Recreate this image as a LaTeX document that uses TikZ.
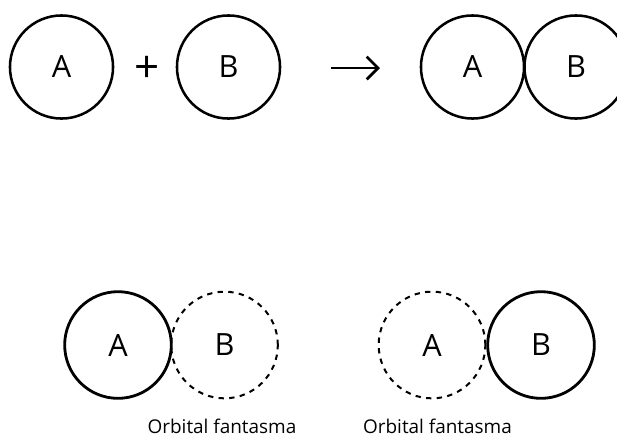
\documentclass[tikz,border=0pt]{standalone}
\usepackage{fontspec}
\setmainfont{Open Sans}
\usetikzlibrary{arrows.meta}
\begin{document}
\begin{tikzpicture}
	[x=0.75pt,y=-0.75pt,
	atom/.style={circle,draw,line width=1.9pt,minimum size=77.3pt,inner sep=0pt,font=\fontsize{23}{27}\selectfont},
	pair/.style={atom,minimum size=80pt,line width=2.1pt},
	ghost/.style={pair,line width=1.5pt,dash pattern=on 4pt off 4pt},
	sign/.style={font=\fontsize{33}{38}\selectfont,inner sep=0pt},
	caption/.style={font=\fontsize{14.2}{17}\selectfont,inner sep=0pt}
	]
	\useasboundingbox (0,0) rectangle (617,444);
	\node[atom] (a) at (61.5,67) {A};
	\node[atom] (b) at (228.5,67) {B};
	\node[sign] (plus) at (147,69) {+};
	\coordinate (from) at (331,68);
	\coordinate (to) at (380,68);
	\draw[line width=2pt,-{Straight Barb[length=8.5pt,width=17pt,line width=2pt]}] (from) -- (to);
	\node[atom] (ab1) at (472.5,67) {A};
	\node[atom] (ab2) at (576,67) {B};
	\node[pair] (left a) at (118,345) {A};
	\node[ghost] (left b) at (224.5,345) {B};
	\node[ghost] (right a) at (432,345) {A};
	\node[pair] (right b) at (541,345) {B};
	\node[caption] (cap1) at (222,426) {Orbital fantasma};
	\node[caption] (cap2) at (437.5,426) {Orbital fantasma};
\end{tikzpicture}
\end{document}
